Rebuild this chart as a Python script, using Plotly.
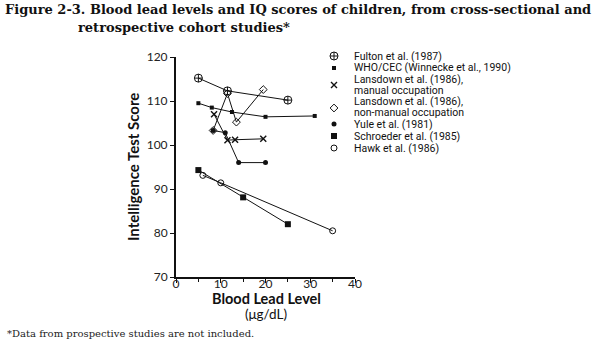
import plotly.graph_objects as go

# ---- data: blood lead (ug/dL) vs. IQ score, one list pair per study ----
fulton_x = [5, 11.5, 25]
fulton_y = [115.2, 112.3, 110.2]

who_x = [5, 8, 12.5, 20, 31]
who_y = [109.5, 108.5, 107.5, 106.4, 106.6]

lans_manual_x = [8.5, 11.5, 13.2, 19.5]
lans_manual_y = [107.0, 101.1, 101.2, 101.4]

lans_nonmanual_x = [8.3, 11.5, 13.5, 19.5]
lans_nonmanual_y = [103.3, 111.7, 105.2, 112.6]

yule_x = [8.3, 11.0, 14.0, 20.0]
yule_y = [103.3, 102.8, 96.0, 96.0]

schroeder_x = [5, 15, 25]
schroeder_y = [94.3, 88.1, 82.0]

hawk_x = [6, 10, 35]
hawk_y = [93.1, 91.4, 80.5]

series_names = [
    ["Fulton et al. (1987)"],
    ["WHO/CEC (Winnecke et al., 1990)"],
    ["Lansdown et al. (1986),", "manual occupation"],
    ["Lansdown et al. (1986),", "non-manual occupation"],
    ["Yule et al. (1981)"],
    ["Schroeder et al. (1985)"],
    ["Hawk et al. (1986)"],
]

x_ticks = [0, 10, 20, 30, 40]
y_ticks = [70, 80, 90, 100, 110, 120]

# ---- page geometry ----
W, H = 612, 345
ML, MR, MT, MB = 176, 60, 50, 68
PW, PH = W - ML - MR, H - MT - MB
PLOT_TOP = 57  # pixel row of the y = 120 tick


def px_x(p):
    return (p - ML) / PW


def px_y(p):
    return (H - MB - p) / PH


INK = "#111111"
series = [
    (fulton_x, fulton_y, dict(symbol="circle-cross-open", size=8, line=dict(width=1))),
    (who_x, who_y, dict(symbol="square", size=4)),
    (lans_manual_x, lans_manual_y, dict(symbol="x-thin-open", size=6, line=dict(width=1.4))),
    (lans_nonmanual_x, lans_nonmanual_y, dict(symbol="diamond-open", size=6, line=dict(width=1))),
    (yule_x, yule_y, dict(symbol="circle", size=5)),
    (schroeder_x, schroeder_y, dict(symbol="square", size=6)),
    (hawk_x, hawk_y, dict(symbol="circle-open", size=6, line=dict(width=1))),
]


def marker_style(mk):
    m = dict(mk)
    m["color"] = INK
    if "line" in m:
        m["line"] = dict(m["line"], color=INK)
    return m


fig = go.Figure()
for (xs, ys, mk), name in zip(series, series_names):
    fig.add_trace(go.Scatter(
        x=xs, y=ys, mode="lines+markers", name=" ".join(name),
        line=dict(color=INK, width=1), marker=marker_style(mk), showlegend=False,
        cliponaxis=False,
    ))

# ---- key: glyph column on a hidden helper axis, text as annotations ----
key_glyph_y = [56, 68, 85, 108, 124, 136, 148]        # glyph centres (px)
key_text_y = [56, 68, 79.5, 101.5, 124, 136, 148]     # first text line centre (px)
key_line_gap = 10.5
glyph_x = 334
for (xs, ys, mk), lines, gy, ty in zip(series, series_names, key_glyph_y, key_text_y):
    fig.add_trace(go.Scatter(
        x=[glyph_x], y=[gy], mode="markers", marker=marker_style(mk),
        xaxis="x2", yaxis="y2", showlegend=False, hoverinfo="skip",
        cliponaxis=False,
    ))
    for i, line in enumerate(lines):
        fig.add_annotation(
            x=px_x(353), y=px_y(ty + i * key_line_gap), xref="paper", yref="paper",
            xanchor="left", yanchor="middle", align="left", showarrow=False,
            borderpad=0,
            text=line, font=dict(family="Roboto", size=10.5, color="#111"),
        )

fig.update_layout(
    width=W, height=H,
    margin=dict(l=ML, r=MR, t=MT, b=MB),
    paper_bgcolor="white", plot_bgcolor="rgba(0,0,0,0)",
    xaxis=dict(
        domain=[0, 179 / PW], range=[0, 40], tickvals=x_ticks,
        showgrid=False, zeroline=False, showline=True, linecolor=INK, linewidth=1.5,
        ticks="outside", ticklen=4, tickcolor=INK, tickwidth=1,
        ticklabelstandoff=-9,
        minor=dict(dtick=5, ticks="outside", ticklen=3, tickcolor=INK),
        tickfont=dict(family="Lato", size=12, color="#222"),
    ),
    yaxis=dict(
        domain=[0, px_y(PLOT_TOP)],
        range=[70, 120], tickvals=y_ticks,
        showgrid=False, zeroline=False, showline=True, linecolor=INK, linewidth=2,
        ticks="outside", ticklen=4, tickcolor=INK, tickwidth=1,
        tickfont=dict(family="Lato", size=12, color="#222"),
    ),
    xaxis2=dict(domain=[px_x(320), px_x(348)], range=[320, 348], visible=False,
                anchor="y2", fixedrange=True),
    yaxis2=dict(domain=[0, 1], range=[H - MB, MT], visible=False,
                anchor="x2", fixedrange=True),
)

# axis titles
fig.add_annotation(
    x=px_x(266), y=px_y(298.5), xref="paper", yref="paper", showarrow=False,
    xanchor="center", yanchor="middle", borderpad=0,
    text="<b>Blood Lead Level</b>", font=dict(family="Lato", size=14.5, color=INK),
)
fig.add_annotation(
    x=px_x(266), y=px_y(314), xref="paper", yref="paper", showarrow=False,
    xanchor="center", yanchor="middle", borderpad=0,
    text="(μg/dL)", font=dict(family="Lato", size=13.5, color=INK),
)
fig.add_annotation(
    x=px_x(133), y=px_y(167), xref="paper", yref="paper", showarrow=False,
    xanchor="center", yanchor="middle",
    textangle=-90, text="<b>Intelligence Test Score</b>",
    font=dict(family="Lato", size=15, color=INK),
)

# figure caption and footnote
fig.add_annotation(
    x=px_x(3), y=px_y(10), xref="paper", yref="paper", showarrow=False,
    xanchor="left", yanchor="middle",
    text="<b>Figure 2-3. Blood lead levels and IQ scores of children, from cross-sectional and</b>",
    font=dict(family="DejaVu Serif", size=13, color="#111"),
)
fig.add_annotation(
    x=px_x(76), y=px_y(27), xref="paper", yref="paper", showarrow=False,
    xanchor="left", yanchor="middle",
    text="<b>retrospective cohort studies*</b>",
    font=dict(family="DejaVu Serif", size=13, color="#111"),
)
fig.add_annotation(
    x=px_x(5), y=px_y(333), xref="paper", yref="paper", showarrow=False,
    xanchor="left", yanchor="middle",
    text="*Data from prospective studies are not included.",
    font=dict(family="DejaVu Serif", size=10, color="#222"),
)

fig.write_html("out.html")
